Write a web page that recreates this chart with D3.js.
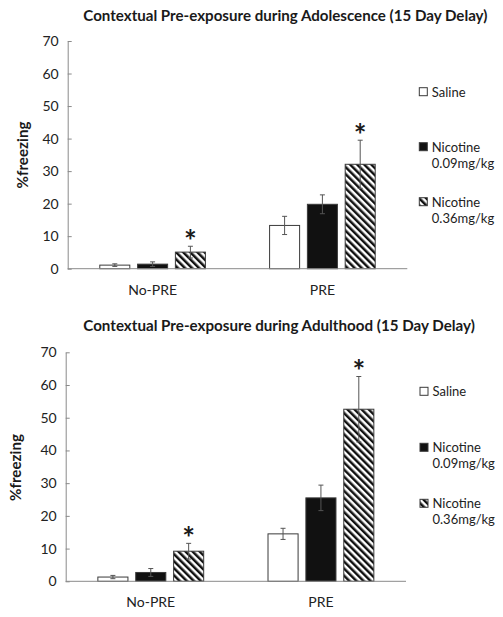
<!DOCTYPE html>
<html><head><meta charset="utf-8">
<script src="https://cdn.jsdelivr.net/npm/d3@7"></script>
<style>body{margin:0;background:#fff} svg{display:block}</style>
</head><body>
<svg id="c" width="503" height="617"></svg>
<script>
// ---------- data ----------
const categories = ["No-PRE", "PRE"];
const seriesNames = ["Saline", "Nicotine 0.09mg/kg", "Nicotine 0.36mg/kg"];
const legendLines = [["Saline"], ["Nicotine", "0.09mg/kg"], ["Nicotine", "0.36mg/kg"]];
const yTicks = [0, 10, 20, 30, 40, 50, 60, 70];
const titles = ["Contextual Pre-exposure during Adolescence (15 Day Delay)",
                "Contextual Pre-exposure during Adulthood (15 Day Delay)"];
const yLabel = "%freezing";
// rows = categories, cols = series
const adolescenceMean = [[1.1, 1.4, 5.1], [13.3, 19.8, 32.1]];
const adolescenceErr  = [[0.4, 0.7, 1.8], [2.8, 2.9, 7.4]];
const adolescenceSig  = [[0, 0, 1], [0, 0, 1]];
const adulthoodMean   = [[1.3, 2.7, 9.2], [14.5, 25.5, 52.6]];
const adulthoodErr    = [[0.5, 1.2, 2.4], [1.7, 3.9, 10.0]];
const adulthoodSig    = [[0, 0, 1], [0, 0, 1]];

// ---------- drawing ----------
const svg = d3.select("#c");
const FONT = "Lato, 'Open Sans', sans-serif";
const defs = svg.append("defs");
const pat = defs.append("pattern").attr("id", "hatch")
  .attr("patternUnits", "userSpaceOnUse").attr("width", 5).attr("height", 5)
  .attr("patternTransform", "rotate(-45)");
pat.append("rect").attr("width", 5).attr("height", 5).attr("fill", "#fff");
pat.append("rect").attr("width", 2.5).attr("height", 5).attr("fill", "#111");
const fills = ["#fff", "#111", "url(#hatch)"];

function fit(sel, w) {
  const fs = parseFloat(sel.attr("font-size"));
  const L = sel.node().getComputedTextLength();
  sel.attr("font-size", (fs * w / L).toFixed(2));
}

function drawChart(cfg, title, means, errs, sigs) {
  const g = svg.append("g");
  const y = d3.scaleLinear().domain([0, 70]).range([cfg.y0, cfg.yTop]);
  const x = d3.scaleBand().domain(categories).range([cfg.left, cfg.right]);
  const xi = d3.scaleBand().domain(d3.range(seriesNames.length))
    .range([0, x.bandwidth()]).paddingInner(0.206).paddingOuter(0.849);

  // title
  const t = g.append("text").attr("x", cfg.titleX).attr("y", cfg.titleY)
    .attr("font-family", FONT).attr("font-weight", "bold").attr("font-size", 14)
    .attr("fill", "#1a1a1a").text(title);
  fit(t, cfg.titleW);

  // y axis
  const ya = g.append("g").attr("transform", `translate(${cfg.left},0)`)
    .call(d3.axisLeft(y).tickValues(yTicks).tickSizeInner(-4).tickSizeOuter(0).tickPadding(9));
  ya.select(".domain").attr("stroke", "#8a8a8a");
  ya.selectAll(".tick line").attr("stroke", "#8a8a8a");
  ya.selectAll(".tick text").attr("font-family", FONT).attr("font-size", 14).attr("fill", "#222");

  // y label
  const yl = g.append("text")
    .attr("transform", `translate(${cfg.ylabX},${cfg.ylabY}) rotate(-90)`)
    .attr("text-anchor", "middle").attr("font-family", FONT).attr("font-weight", "bold")
    .attr("font-size", 15).attr("fill", "#1a1a1a").text(yLabel);
  fit(yl, 67);

  // bars
  categories.forEach((c, ci) => {
    const gg = g.append("g");
    seriesNames.forEach((s, si) => {
      const v = means[ci][si], e = errs[ci][si];
      const bx = x(c) + xi(si), bw = xi.bandwidth();
      gg.append("rect").attr("x", bx).attr("y", y(v)).attr("width", bw)
        .attr("height", y(0) - y(v)).attr("fill", fills[si])
        .attr("stroke", "#3a3a3a").attr("stroke-width", 1);
      const cx = bx + bw / 2;
      const eb = gg.append("g").attr("stroke", "#555").attr("stroke-width", 1);
      eb.append("line").attr("x1", cx).attr("x2", cx).attr("y1", y(v - e)).attr("y2", y(v + e));
      eb.append("line").attr("x1", cx - 2.5).attr("x2", cx + 2.5).attr("y1", y(v + e)).attr("y2", y(v + e));
      eb.append("line").attr("x1", cx - 2.5).attr("x2", cx + 2.5).attr("y1", y(v - e)).attr("y2", y(v - e));
      if (sigs[ci][si]) {
        const st = gg.append("text").attr("x", cx).attr("y", 0)
          .attr("text-anchor", "middle").attr("font-family", FONT).attr("font-weight", "bold")
          .attr("font-size", 30).attr("fill", "#1a1a1a").text("*");
        // scale glyph so its drawn width is ~8.7px, then sit it 4px above the cap
        let bb = st.node().getBBox();
        // getBBox gives the em box; estimate glyph ink via font metrics ratio
        st.attr("y", y(v + e) - 4 + 0.33 * 30);
      }
    });
  });

  // x axis line
  g.append("line").attr("x1", cfg.left).attr("x2", cfg.right)
    .attr("y1", y(0)).attr("y2", y(0)).attr("stroke", "#8a8a8a");
  categories.forEach(c => {
    g.append("text").attr("x", x(c) + x.bandwidth() / 2).attr("y", cfg.y0 + cfg.catDy)
      .attr("text-anchor", "middle").attr("font-family", FONT).attr("font-size", 14)
      .attr("fill", "#222").text(c);
  });

  // legend
  legendLines.forEach((lines, i) => {
    const ly = cfg.legY + i * cfg.legStep;
    g.append("rect").attr("x", cfg.legX).attr("y", ly).attr("width", 8).attr("height", 8)
      .attr("fill", fills[i]).attr("stroke", "#3a3a3a");
    lines.forEach((ln, k) => {
      g.append("text").attr("x", cfg.legX + 12.5).attr("y", ly + 8.8 + k * 16)
        .attr("font-family", FONT).attr("font-size", 13).attr("fill", "#222").text(ln);
    });
  });
}

drawChart({left: 67.7, right: 407.3, y0: 268.7, yTop: 41, titleX: 83.3, titleY: 20.5, titleW: 404,
           ylabX: 28, ylabY: 155, catDy: 26.3, legX: 419.3, legY: 87.7, legStep: 55},
          titles[0], adolescenceMean, adolescenceErr, adolescenceSig);
drawChart({left: 65.7, right: 406, y0: 581.3, yTop: 352.3, titleX: 83.3, titleY: 330.5, titleW: 391.7,
           ylabX: 21, ylabY: 467.5, catDy: 25.4, legX: 420, legY: 387.3, legStep: 56},
          titles[1], adulthoodMean, adulthoodErr, adulthoodSig);
</script>
</body></html>
